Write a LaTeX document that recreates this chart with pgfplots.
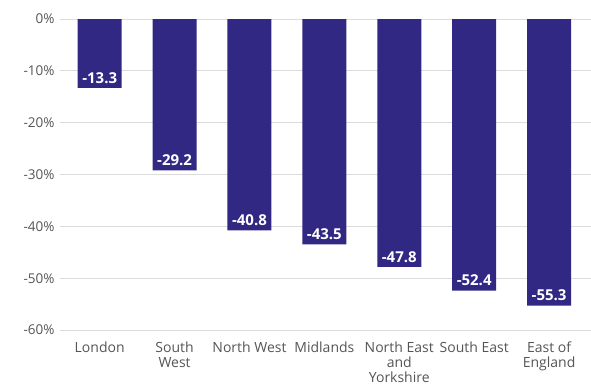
\documentclass[border=0pt]{standalone}
\usepackage{pgfplots}
\pgfplotsset{compat=1.18}
\usepackage{fontspec}
\setmainfont{Open Sans}
\definecolor{barblue}{RGB}{48,40,130}
\definecolor{ticktext}{RGB}{85,85,85}
\definecolor{gridc}{RGB}{220,220,220}
\begin{document}
\begin{tikzpicture}
\begin{axis}[
  scale only axis,
  width=531pt, height=311pt,
  ybar, bar width=44pt,
  xmin=-0.53, xmax=6.56,
  ymin=-60, ymax=0,
  xtick={0,1,2,3,4,5,6},
  xticklabels={London,South\\West,North West,Midlands,North East\\and\\Yorkshire,South East,East of\\England},
  x tick label style={align=center, font=\fontsize{14}{15}\selectfont, text=ticktext, yshift=-8pt},
  ytick={0,-10,-20,-30,-40,-50,-60},
  yticklabels={0\%,-10\%,-20\%,-30\%,-40\%,-50\%,-60\%},
  y tick label style={font=\fontsize{13.5}{14}\selectfont, text=ticktext, xshift=-2pt},
  ymajorgrids, major grid style={gridc, line width=0.8pt},
  axis line style={draw=none},
  major tick length=0pt,
  nodes near coords={\pgfmathprintnumber[fixed,fixed zerofill,precision=1,assume math mode=true]{\pgfplotspointmeta}},
  every node near coord/.append style={anchor=south, yshift=1pt, text=white, font=\bfseries\fontsize{15}{16}\selectfont},
  clip=false,
]
\addplot[fill=barblue, draw=none] coordinates {(0,-13.3) (1,-29.2) (2,-40.8) (3,-43.5) (4,-47.8) (5,-52.4) (6,-55.3)};
\end{axis}
\pgfresetboundingbox
\path[use as bounding box] (-60pt,-59pt) rectangle (531pt,330pt);
\end{tikzpicture}
\end{document}
